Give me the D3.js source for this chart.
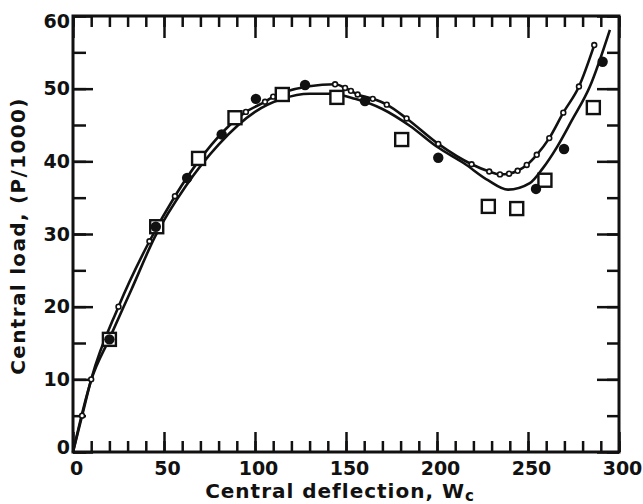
<!DOCTYPE html>
<html>
<head>
<meta charset="utf-8">
<script src="https://cdn.jsdelivr.net/npm/d3@7"></script>
<style>
  body { margin: 0; background: #fff; }
  svg { display: block; }
  text { font-family: "DejaVu Sans", sans-serif; font-weight: bold; fill: #111; }
</style>
</head>
<body>
<div id="wrapper"></div>
<script>
// 1. Data
const xTickLabels = [0, 50, 100, 150, 200, 250, 300]
const yTickLabels = [0, 10, 20, 30, 40, 50, 60]

// plain solid curve
const plainDefl = [0, 10, 20, 32, 45, 62, 80, 100, 115, 130, 142, 155, 170, 185, 200, 215, 228, 239, 251, 258, 266, 274, 284, 295]
const plainLoad = [0, 9.9, 15.6, 22.3, 29.6, 36.6, 42.3, 46.8, 48.6, 49.3, 49.3, 48.6, 47.2, 44.9, 42.0, 39.7, 37.4, 36.1, 37.0, 39.0, 42.0, 45.6, 50.3, 58.1]

// curve through small open circles
const ringDefl = [0, 5, 10, 25, 42, 56, 69.5, 95, 105.5, 110, 115.6, 144, 149.5, 152.7, 156.4, 164.7, 172.4, 183.3, 200.7, 219, 228.7, 234.6, 239.6, 244.3, 249.3, 254.8, 261.7, 269.4, 278, 286.4]
const ringLoad = [0, 5, 10, 20, 29, 35.2, 40.2, 46.8, 48.2, 48.9, 49.5, 50.6, 50.1, 49.7, 49.2, 48.6, 47.8, 45.9, 42.4, 39.6, 38.6, 38.2, 38.3, 38.7, 39.5, 40.9, 43.2, 46.7, 50.3, 56.0]

// open squares
const squareDefl = [20, 46, 69, 89, 115, 145, 180.6, 228.2, 243.8, 259.3, 285.9]
const squareLoad = [15.5, 31, 40.4, 46, 49.2, 48.8, 43.0, 33.8, 33.5, 37.4, 47.4]

// filled circles
const dotDefl = [20, 45.5, 62.7, 81.7, 100.5, 127.5, 160.4, 200.7, 254.4, 269.8, 291]
const dotLoad = [15.5, 31, 37.7, 43.7, 48.6, 50.5, 48.3, 40.5, 36.2, 41.7, 53.7]

const zipPts = (xs, ys) => xs.map((x, i) => ({ x, y: ys[i] }))

// 2. Dimensions
const dimensions = {
  width: 643,
  height: 504,
  margin: { top: 16, right: 24, bottom: 52, left: 73 },
}
dimensions.boundedWidth = dimensions.width - dimensions.margin.left - dimensions.margin.right
dimensions.boundedHeight = dimensions.height - dimensions.margin.top - dimensions.margin.bottom

// 3. Canvas
const svg = d3.select("#wrapper").append("svg")
  .attr("width", dimensions.width)
  .attr("height", dimensions.height)

const plotLeft = dimensions.margin.left
const plotTop = dimensions.margin.top
const plotRight = plotLeft + dimensions.boundedWidth
const plotBottom = plotTop + dimensions.boundedHeight

// 4. Scales
const xScale = d3.scaleLinear().domain([0, 300]).range([plotLeft, plotRight])
const yScale = d3.scaleLinear().domain([0, 60]).range([plotBottom, plotTop])

// 5. Axes / ticks (all pointing inward)
function styleAxis(g) {
  g.select(".domain").remove()
  g.selectAll(".tick line").attr("stroke", "#111").attr("stroke-width", 2.5)
}

svg.append("g").attr("transform", `translate(0,${plotBottom})`)
  .call(d3.axisBottom(xScale).ticks(30).tickSize(-11).tickFormat(""))
  .call(styleAxis)
svg.append("g").attr("transform", `translate(0,${plotBottom})`)
  .call(d3.axisBottom(xScale).tickValues(xTickLabels).tickSize(-20).tickPadding(10))
  .call(styleAxis)
  .call(g => g.selectAll("text").attr("x", 3).style("font-size", "19px").attr("fill", "#111"))

svg.append("g").attr("transform", `translate(0,${plotTop})`)
  .call(d3.axisTop(xScale).ticks(30).tickSize(-11).tickFormat(""))
  .call(styleAxis)
svg.append("g").attr("transform", `translate(0,${plotTop})`)
  .call(d3.axisTop(xScale).tickValues(xTickLabels).tickSize(-22).tickFormat(""))
  .call(styleAxis)

svg.append("g").attr("transform", `translate(${plotLeft},0)`)
  .call(d3.axisLeft(yScale).ticks(12).tickSize(-13).tickFormat(""))
  .call(styleAxis)
svg.append("g").attr("transform", `translate(${plotLeft},0)`)
  .call(d3.axisLeft(yScale).tickValues(yTickLabels).tickSize(-20).tickPadding(3))
  .call(styleAxis)
  .call(g => g.selectAll("text")
    .style("font-size", "19px").attr("fill", "#111")
    .attr("y", d => (d === 60 ? 5 : d === 0 ? -5 : 0)))

svg.append("g").attr("transform", `translate(${plotRight},0)`)
  .call(d3.axisRight(yScale).ticks(12).tickSize(-12).tickFormat(""))
  .call(styleAxis)
svg.append("g").attr("transform", `translate(${plotRight},0)`)
  .call(d3.axisRight(yScale).tickValues(yTickLabels).tickSize(-22).tickFormat(""))
  .call(styleAxis)

svg.append("rect")
  .attr("x", plotLeft).attr("y", plotTop)
  .attr("width", dimensions.boundedWidth).attr("height", dimensions.boundedHeight)
  .attr("fill", "none").attr("stroke", "#111").attr("stroke-width", 3)

// 6. Curves
const lineGen = d3.line()
  .x(d => xScale(d.x))
  .y(d => yScale(d.y))
  .curve(d3.curveMonotoneX)

svg.append("path")
  .datum(zipPts(plainDefl, plainLoad))
  .attr("d", lineGen)
  .attr("fill", "none").attr("stroke", "#111").attr("stroke-width", 2.6)

svg.append("path")
  .datum(zipPts(ringDefl, ringLoad))
  .attr("d", lineGen)
  .attr("fill", "none").attr("stroke", "#111").attr("stroke-width", 2.6)

svg.append("g").selectAll("circle")
  .data(zipPts(ringDefl, ringLoad).slice(1))
  .join("circle")
  .attr("cx", d => xScale(d.x)).attr("cy", d => yScale(d.y))
  .attr("r", 2.4)
  .attr("fill", "#fff").attr("stroke", "#111").attr("stroke-width", 1.6)

// 7. Test points
const sq = 13
svg.append("g").selectAll("rect")
  .data(zipPts(squareDefl, squareLoad))
  .join("rect")
  .attr("x", d => xScale(d.x) - sq / 2).attr("y", d => yScale(d.y) - sq / 2)
  .attr("width", sq).attr("height", sq)
  .attr("fill", "#fff").attr("stroke", "#111").attr("stroke-width", 2.4)

svg.append("g").selectAll("circle")
  .data(zipPts(dotDefl, dotLoad))
  .join("circle")
  .attr("cx", d => xScale(d.x)).attr("cy", d => yScale(d.y))
  .attr("r", 5.2)
  .attr("fill", "#111")

// 8. Axis titles
function fitWidth(sel, target) {
  const node = sel.node()
  const n = node.textContent.length
  const w = node.getComputedTextLength()
  sel.attr("letter-spacing", (target - w) / (n - 1))
}

const xTitle = svg.append("text")
  .attr("x", 340).attr("y", 498)
  .attr("text-anchor", "middle")
  .style("font-size", "20px")
xTitle.append("tspan").text("Central deflection, W")
xTitle.append("tspan").text("c").style("font-size", "15px").attr("dy", 3)
fitWidth(xTitle, 268)

const yTitle = svg.append("text")
  .attr("transform", "translate(25,236) rotate(-90)")
  .attr("text-anchor", "middle")
  .style("font-size", "20px")
  .text("Central load, (P/1000)")
fitWidth(yTitle, 276)
</script>
</body>
</html>
